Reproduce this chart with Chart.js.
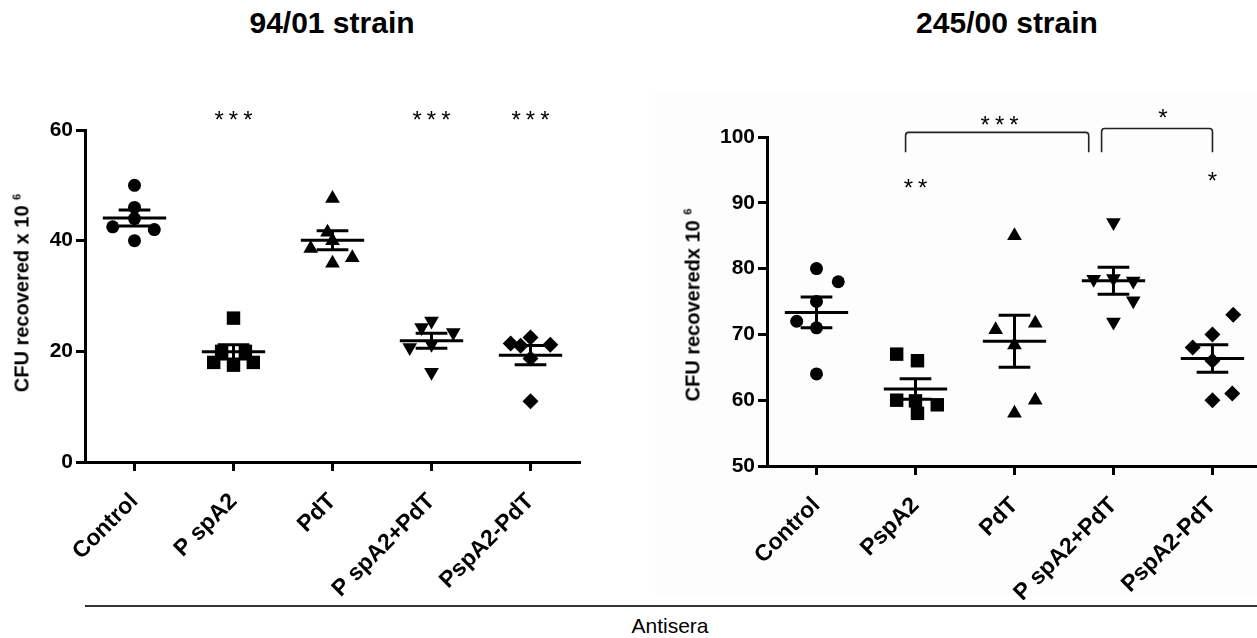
<!DOCTYPE html>
<html>
<head>
<meta charset="utf-8">
<script src="https://cdn.jsdelivr.net/npm/chart.js@4.4.1/dist/chart.umd.min.js"></script>
<style>
  body { margin: 0; background: #fff; width: 1257px; height: 638px; position: relative; overflow: hidden;
         font-family: "Liberation Sans", Arial, sans-serif; color: #000; }
  .box { position: absolute; }
  .title { position: absolute; font-weight: bold; font-size: 30px; transform: translateX(-50%); white-space: nowrap; }
  .ytitle { position: absolute; font-weight: bold; font-size: 20px; white-space: nowrap;
            transform: translate(-50%, -50%) rotate(-90deg); }
  .ytitle sup { font-size: 11px; }
  #shade { position: absolute; left: 655px; top: 90px; width: 602px; height: 505px; background: #fdfdfd; }
  #rule { position: absolute; left: 85px; top: 605px; width: 1172px; height: 2px; background: #333; }
  #xtitle { position: absolute; left: 670px; top: 614px; transform: translateX(-50%); font-size: 21px; }
</style>
</head>
<body>
<div id="shade"></div>
<div class="title" style="left:332px; top:6px">94/01 strain</div>
<div class="title" style="left:1007px; top:6px">245/00 strain</div>
<div class="box" style="left:0; top:0; width:620px; height:600px"><canvas id="left"></canvas></div>
<div class="box" style="left:640px; top:0; width:640px; height:600px"><canvas id="right"></canvas></div>
<div class="ytitle" style="left:22px; top:293px">CFU recovered x 10 <sup>6</sup></div>
<div class="ytitle" style="left:693px; top:305px">CFU recoveredx 10 <sup>6</sup></div>
<div id="rule"></div>
<div id="xtitle">Antisera</div>

<script>
// groups on the x axis
const labels9401 = ['Control', 'P spA2', 'PdT', 'P spA2+PdT', 'PspA2-PdT'];
const labels24500 = ['Control', 'PspA2', 'PdT', 'P spA2+PdT', 'PspA2-PdT'];

// CFU recovered (x 10^6), one list per group
const cfu9401 = [
  [50, 46, 44, 42.5, 42, 40],
  [26, 20, 20, 18, 18, 17.5],
  [47.6, 41.5, 40, 38.6, 36.9, 35.9],
  [25.5, 24.3, 23.4, 21.3, 20.7, 16.2],
  [22.5, 21.4, 21.2, 21, 18.7, 11]
];
const cfu24500 = [
  [80, 78, 75, 72, 71, 64],
  [67, 66, 60, 59.9, 59.3, 58],
  [85, 71.7, 70.7, 68.4, 60, 58],
  [87, 78.5, 78.4, 78.1, 75.1, 71.9],
  [73, 70, 68, 66, 61, 60]
];

// horizontal scatter of each point around its group (in group widths)
const jitter9401 = [
  [0, 0, 0, -0.22, 0.2, 0],
  [0, -0.12, 0.12, -0.2, 0.2, 0],
  [0, -0.05, 0, -0.22, 0.2, 0],
  [0, -0.1, 0.22, 0, -0.22, 0],
  [0, -0.2, 0.2, -0.1, 0, 0]
];
const jitter24500 = [
  [0, 0.22, 0, -0.2, 0, 0],
  [-0.19, 0.02, -0.19, 0, 0.22, 0.02],
  [0, 0.21, -0.19, 0, 0.21, 0],
  [0, 0, -0.2, 0.2, 0.2, 0],
  [0.21, 0, -0.2, 0, 0.2, 0]
];

// significance marks
const stars9401 = ['', '***', '', '***', '***'];
const stars24500 = ['', '**', '', '', '*'];

const FONT = '"Liberation Sans", Arial, sans-serif';
const markers = ['circle', 'rect', 'triangle', 'triangle', 'rectRot'];
const markerRot = [0, 0, 0, 180, 0];
const markerSize = [6.5, 9.5, 8.5, 8.5, 8];

// mean line with SEM whiskers for each group
const summaryPlugin = {
  id: 'summary',
  afterDatasetsDraw(chart) {
    const ctx = chart.ctx, xs = chart.scales.x, ys = chart.scales.y;
    ctx.save();
    ctx.strokeStyle = '#000';
    ctx.lineWidth = 3;
    chart.data.datasets.forEach((ds, i) => {
      const v = ds.data.map(p => p.y);
      const n = v.length;
      const m = v.reduce((a, b) => a + b, 0) / n;
      const sd = Math.sqrt(v.reduce((a, b) => a + (b - m) * (b - m), 0) / (n - 1));
      const sem = sd / Math.sqrt(n);
      const hline = (half, val) => {
        ctx.beginPath();
        ctx.moveTo(xs.getPixelForValue(i - half), ys.getPixelForValue(val));
        ctx.lineTo(xs.getPixelForValue(i + half), ys.getPixelForValue(val));
        ctx.stroke();
      };
      hline(0.32, m);
      hline(0.16, m + sem);
      hline(0.16, m - sem);
      ctx.beginPath();
      ctx.moveTo(xs.getPixelForValue(i), ys.getPixelForValue(m + sem));
      ctx.lineTo(xs.getPixelForValue(i), ys.getPixelForValue(m - sem));
      ctx.stroke();
    });
    ctx.restore();
  }
};

// asterisks and brackets
const marksPlugin = {
  id: 'marks',
  afterDraw(chart, args, opts) {
    const ctx = chart.ctx, xs = chart.scales.x, ys = chart.scales.y;
    ctx.save();
    ctx.fillStyle = '#000';
    ctx.font = '24px ' + FONT;
    ctx.textAlign = 'center';
    ctx.textBaseline = 'middle';
    ctx.letterSpacing = '5px';
    (opts.stars || []).forEach((s, i) => {
      if (s) ctx.fillText(s, xs.getPixelForValue(i) + 2.5, ys.getPixelForValue(opts.starY[i]) + 4);
    });
    ctx.strokeStyle = '#222';
    ctx.lineWidth = 1.6;
    (opts.brackets || []).forEach(b => {
      const x0 = xs.getPixelForValue(b.from), x1 = xs.getPixelForValue(b.to);
      const yt = ys.getPixelForValue(b.top), yb = ys.getPixelForValue(b.bottom);
      ctx.beginPath();
      ctx.moveTo(x0, yb);
      ctx.lineTo(x0, yt + 3);
      ctx.quadraticCurveTo(x0, yt, x0 + 3, yt);
      ctx.lineTo(x1 - 3, yt);
      ctx.quadraticCurveTo(x1, yt, x1, yt + 3);
      ctx.lineTo(x1, yb);
      ctx.stroke();
      ctx.fillText(b.label, xs.getPixelForValue(b.labelX) + 2.5, ys.getPixelForValue(b.labelY) + 4);
    });
    ctx.restore();
  }
};

function makeChart(id, labels, values, jitter, cfg) {
  const datasets = values.map((group, i) => ({
    data: group.map((v, k) => ({ x: i + jitter[i][k], y: v })),
    pointStyle: markers[i],
    rotation: markerRot[i],
    pointRadius: markerSize[i],
    backgroundColor: '#000',
    borderColor: '#000',
    borderWidth: 0,
    showLine: false
  }));
  const axisGrid = { drawOnChartArea: false, drawTicks: true, tickLength: 9, tickWidth: 3, tickColor: '#000' };
  return new Chart(document.getElementById(id), {
    type: 'scatter',
    data: { datasets },
    options: {
      responsive: true,
      maintainAspectRatio: false,
      animation: false,
      layout: { padding: { top: cfg.padTop, right: cfg.padRight, left: 0, bottom: 0 } },
      plugins: {
        legend: { display: false },
        tooltip: { enabled: false },
        marks: cfg.marks
      },
      scales: {
        x: {
          type: 'linear',
          min: -0.5,
          max: cfg.xMax,
          afterBuildTicks: s => { s.ticks = labels.map((l, i) => ({ value: i })); },
          afterFit: s => { s.height = cfg.xHeight; },
          ticks: {
            callback: v => labels[v],
            autoSkip: false,
            minRotation: 45,
            maxRotation: 45,
            padding: 17,
            color: '#000',
            font: { family: FONT, size: 23, weight: 'bold' }
          },
          grid: axisGrid,
          border: { color: '#000', width: 3 }
        },
        y: {
          min: cfg.yMin,
          max: cfg.yMax,
          afterFit: s => { s.width = cfg.yWidth; },
          ticks: {
            stepSize: cfg.yStep,
            padding: 3,
            color: '#000',
            font: { family: FONT, size: 21, weight: 'bold' }
          },
          grid: axisGrid,
          border: { color: '#000', width: 3 }
        }
      }
    },
    plugins: [summaryPlugin, marksPlugin]
  });
}

document.addEventListener('DOMContentLoaded', function () {
  makeChart('left', labels9401, cfu9401, jitter9401, {
    padTop: 130, padRight: 40, xHeight: 138, yWidth: 85, xMax: 4.5,
    yMin: 0, yMax: 60, yStep: 20,
    marks: { stars: stars9401, starY: [0, 62.3, 0, 62.3, 62.3], brackets: [] }
  });
  makeChart('right', labels24500, cfu24500, jitter24500, {
    padTop: 137, padRight: 23, xHeight: 134, yWidth: 127, xMax: 4.45,
    yMin: 50, yMax: 100, yStep: 10,
    marks: {
      stars: stars24500,
      starY: [0, 92.7, 0, 0, 93.7],
      brackets: [
        { from: 0.9, to: 2.75, top: 100.7, bottom: 97.7, label: '***', labelX: 1.85, labelY: 102.2 },
        { from: 2.88, to: 4.0, top: 101.3, bottom: 97.7, label: '*', labelX: 3.5, labelY: 103.3 }
      ]
    }
  });
});
</script>
</body>
</html>
